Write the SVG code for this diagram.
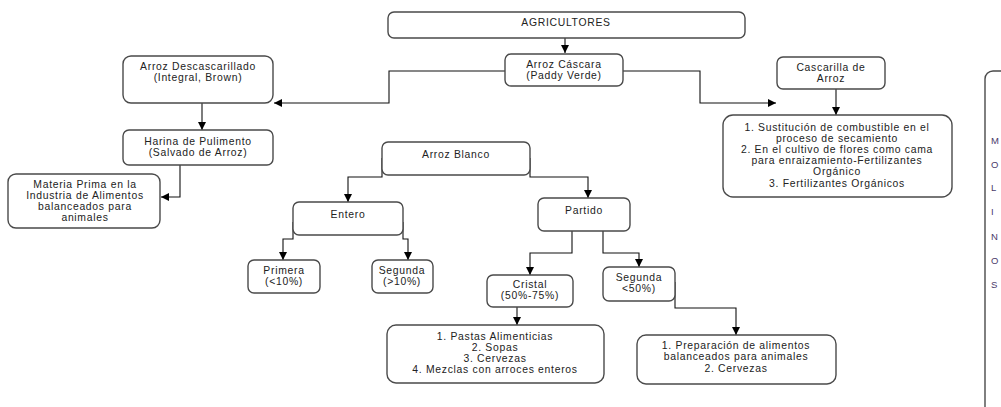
<svg xmlns="http://www.w3.org/2000/svg" width="1001" height="407" viewBox="0 0 1001 407">
<defs>
<style>
.box{fill:#fff;stroke:#4a4a4a;stroke-width:1.4}
.t{font-family:"Liberation Sans",Arial,sans-serif;font-size:10.4px;letter-spacing:0.7px;fill:#222;text-anchor:middle}
.s{font-family:"Liberation Sans",Arial,sans-serif;font-size:9.5px;fill:#4a3a6a}
.c{fill:none;stroke:#111;stroke-width:1.1}
</style>
<marker id="ah" viewBox="0 0 10 10" refX="10" refY="5" markerWidth="8" markerHeight="8" markerUnits="userSpaceOnUse" orient="auto">
<path d="M0,0 L10,5 L0,10 z" fill="#000"/>
</marker>
</defs>
<rect width="1001" height="407" fill="#fff"/>
<g id="connectors">
<path class="c" d="M565,38 V53" marker-end="url(#ah)"/>
<path class="c" d="M505,71 H389 V103 H274" marker-end="url(#ah)"/>
<path class="c" d="M623,71 H700 V103 H776" marker-end="url(#ah)"/>
<path class="c" d="M202,103 V130" marker-end="url(#ah)"/>
<path class="c" d="M180,165 V197 H161" marker-end="url(#ah)"/>
<path class="c" d="M836,89 V115" marker-end="url(#ah)"/>
<path class="c" d="M382,158 V177 H348 V202" marker-end="url(#ah)"/>
<path class="c" d="M530,158 V177 H588 V198" marker-end="url(#ah)"/>
<path class="c" d="M293,222 V239 H283 V260" marker-end="url(#ah)"/>
<path class="c" d="M403,222 V239 H408 V260" marker-end="url(#ah)"/>
<path class="c" d="M572,231 V253 H530 V275" marker-end="url(#ah)"/>
<path class="c" d="M603,231 V253 H639 V267" marker-end="url(#ah)"/>
<path class="c" d="M517,307 V325" marker-end="url(#ah)"/>
<path class="c" d="M675,282 V308 H736 V335" marker-end="url(#ah)"/>
</g>
<g id="agricultores"><rect class="box" x="388" y="12" width="357" height="26" rx="6"/><text class="t" x="566" y="26">AGRICULTORES</text></g>
<g id="arroz-cascara"><rect class="box" x="505" y="54" width="118" height="32" rx="6"/><text class="t" x="564" y="68">Arroz Cáscara</text><text class="t" x="564" y="79">(Paddy Verde)</text></g>
<g id="arroz-descascarillado"><rect class="box" x="123" y="56" width="150" height="47" rx="8"/><text class="t" x="198" y="70">Arroz Descascarillado</text><text class="t" x="198" y="81">(Integral, Brown)</text></g>
<g id="harina"><rect class="box" x="123" y="130" width="150" height="35" rx="6"/><text class="t" x="198" y="145">Harina de Pulimento</text><text class="t" x="198" y="156">(Salvado de Arroz)</text></g>
<g id="materia-prima"><rect class="box" x="8" y="174" width="152" height="54" rx="8"/><text class="t" x="85" y="188">Materia Prima en la</text><text class="t" x="85" y="199">Industria de Alimentos</text><text class="t" x="85" y="210">balanceados para</text><text class="t" x="85" y="221">animales</text></g>
<g id="cascarilla"><rect class="box" x="777" y="57" width="108" height="32" rx="6"/><text class="t" x="831" y="71">Cascarilla de</text><text class="t" x="831" y="82">Arroz</text></g>
<g id="usos-cascarilla"><rect class="box" x="723" y="115" width="229" height="82" rx="10"/><text class="t" x="837" y="131">1. Sustitución de combustible en el</text><text class="t" x="837" y="142">proceso de secamiento</text><text class="t" x="837" y="153">2. En el cultivo de flores como cama</text><text class="t" x="837" y="164">para enraizamiento-Fertilizantes</text><text class="t" x="837" y="175">Orgánico</text><text class="t" x="837" y="187">3. Fertilizantes Orgánicos</text></g>
<g id="arroz-blanco"><rect class="box" x="382" y="142" width="148" height="33" rx="6"/><text class="t" x="456" y="158">Arroz Blanco</text></g>
<g id="entero"><rect class="box" x="293" y="202" width="110" height="33" rx="6"/><text class="t" x="348" y="218">Entero</text></g>
<g id="partido"><rect class="box" x="538" y="198" width="92" height="33" rx="6"/><text class="t" x="584" y="214">Partido</text></g>
<g id="primera"><rect class="box" x="248" y="260" width="72" height="33" rx="6"/><text class="t" x="284" y="274">Primera</text><text class="t" x="284" y="285">(&lt;10%)</text></g>
<g id="segunda-entero"><rect class="box" x="372" y="260" width="61" height="33" rx="6"/><text class="t" x="402" y="274">Segunda</text><text class="t" x="402" y="285">(&gt;10%)</text></g>
<g id="cristal"><rect class="box" x="487" y="275" width="86" height="32" rx="6"/><text class="t" x="530" y="288">Cristal</text><text class="t" x="530" y="299">(50%-75%)</text></g>
<g id="segunda-partido"><rect class="box" x="603" y="267" width="72" height="34" rx="6"/><text class="t" x="639" y="281">Segunda</text><text class="t" x="639" y="292">&lt;50%)</text></g>
<g id="usos-cristal"><rect class="box" x="387" y="325" width="217" height="58" rx="9"/><text class="t" x="495" y="340">1. Pastas Alimenticias</text><text class="t" x="495" y="351">2. Sopas</text><text class="t" x="495" y="362">3. Cervezas</text><text class="t" x="495" y="373">4. Mezclas con arroces enteros</text></g>
<g id="usos-segunda"><rect class="box" x="637" y="335" width="199" height="49" rx="9"/><text class="t" x="736" y="349">1. Preparación de alimentos</text><text class="t" x="736" y="360">balanceados para animales</text><text class="t" x="736" y="372">2. Cervezas</text></g>
<g id="molinos"><rect class="box" x="985" y="71" width="40" height="360" rx="8"/>
<text class="s" x="991" y="144">M</text><text class="s" x="991" y="168">O</text><text class="s" x="991" y="191">L</text><text class="s" x="991" y="215">I</text><text class="s" x="991" y="240">N</text><text class="s" x="991" y="264">O</text><text class="s" x="991" y="288">S</text></g>
</svg>
